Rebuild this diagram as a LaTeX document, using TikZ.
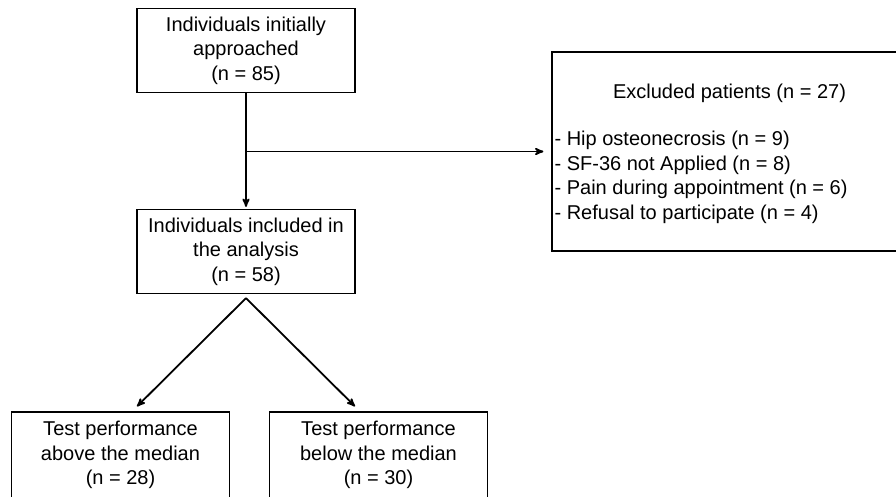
\documentclass[tikz,border=0pt]{standalone}
\usepackage{fontspec}
\setmainfont{Liberation Sans}
\usetikzlibrary{arrows,positioning}

\tikzset{
  box/.style={draw, line width=1.2pt, align=center, minimum width=218pt,
              minimum height=84pt, inner sep=2pt},
  exclbox/.style={draw, line width=1.2pt, minimum width=355pt, minimum height=199pt},
  flow/.style={->, line width=1.8pt},
}

\begin{document}
\begin{tikzpicture}[x=1pt,y=-1pt,>=stealth',font=\fontsize{20}{24.5}\selectfont]
      \useasboundingbox (0,0) rectangle (896,496);

      %% screening
      \node[box]              (top)  at (246,50.5)              {Individuals initially\\approached\\(n = 85)};
      \node[box]              (mid)  [below of=top, node distance=201pt] {Individuals included in\\the analysis\\(n = 58)};

      %% exclusions
      \node[exclbox]          (excl) at (729.5,151.5)           {};
      \node                   (excltitle) at ([yshift=-42pt]excl.north) {Excluded patients (n = 27)};
      \node[align=left, anchor=west, inner sep=2pt]
                              (excllist) at ([xshift=1pt,yshift=-26pt]excl.west)
            {- Hip osteonecrosis (n = 9)\\- SF-36 not Applied (n = 8)\\- Pain during appointment (n = 6)\\- Refusal to participate (n = 4)};

      %% groups
      \node[box, minimum height=86pt] (lowA) at (120.5,455)     {Test performance\\above the median\\(n = 28)};
      \node[box, minimum height=86pt] (lowB) [right of=lowA, node distance=258pt] {Test performance\\below the median\\(n = 30)};

      \coordinate (split) at ([yshift=-4pt]mid.south);

      \draw[flow]  (top.south) -- ([yshift=2pt]mid.north);
      \draw[flow]  (top.south |- excl.west) -- ([xshift=-8pt]excl.west);
      \draw[flow]  (split) -- ([xshift=16.5pt,yshift=5pt]lowA.north);
      \draw[flow]  (split) -- ([xshift=-23.5pt,yshift=5pt]lowB.north);
\end{tikzpicture}
\end{document}
